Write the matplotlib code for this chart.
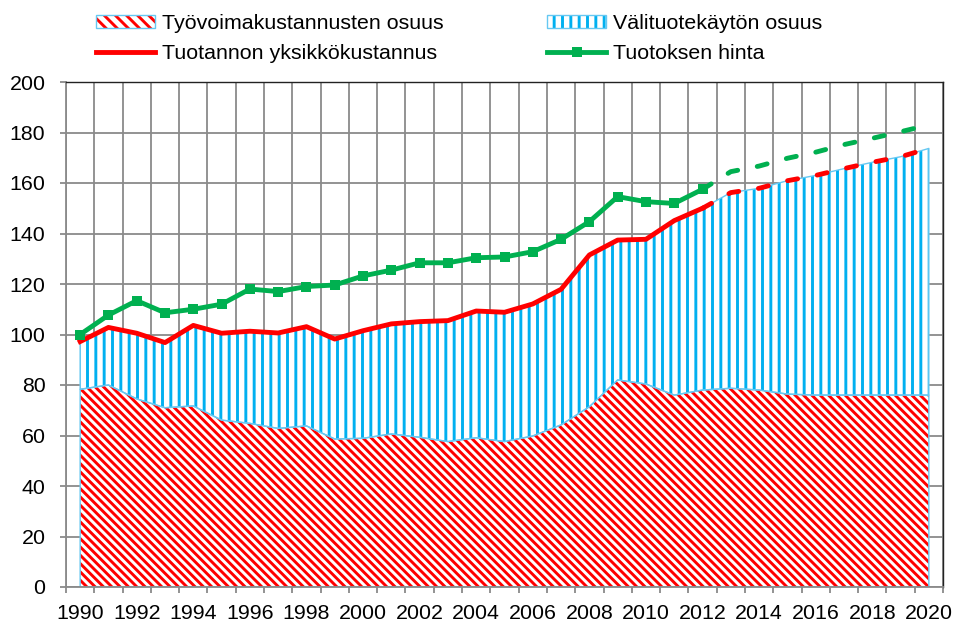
import numpy as np
import matplotlib.pyplot as plt
from matplotlib.patches import Patch
from matplotlib.lines import Line2D

plt.rcParams['font.family'] = ['Liberation Sans', 'DejaVu Sans']
plt.rcParams['hatch.linewidth'] = 2.1

# Data
years = np.arange(1990, 2021)
hist_years = np.arange(1990, 2013)
fc_years = np.arange(2012, 2021)

labour = [78.3, 80.0, 74.5, 71.0, 71.7, 66.1, 64.8, 62.8, 63.8, 58.6, 58.9,
          60.6, 59.3, 57.6, 59.1, 57.6, 59.8, 64.2, 71.4, 82.0, 80.4, 76.0,
          78.0, 78.7, 78.0, 76.4, 76.0, 76.0, 76.0, 76.0, 76.0]
unit_cost = [97.2, 102.8, 100.5, 96.8, 103.6, 100.5, 101.3, 100.6, 103.1, 98.2,
             101.5, 104.2, 105.1, 105.5, 109.3, 108.8, 112.1, 117.9, 131.5,
             137.4, 137.7, 145.1, 150.0]
unit_cost_fc = [150.0, 156.2, 157.9, 160.9, 163.0, 165.7, 168.2, 170.4, 173.7]
price = [100.0, 107.7, 113.4, 108.6, 110.0, 112.0, 118.0, 117.0, 119.0, 119.6,
         123.2, 125.5, 128.4, 128.4, 130.4, 130.7, 132.8, 137.7, 144.7, 154.6,
         152.6, 151.9, 157.5]
price_fc = [157.5, 164.5, 166.7, 169.8, 172.2, 175.2, 177.7, 180.3, 183.0]

labels = ['Työvoimakustannusten osuus', 'Välituotekäytön osuus',
          'Tuotannon yksikkökustannus', 'Tuotoksen hinta']

total = unit_cost + unit_cost_fc[1:]

red = '#FF0000'
green = '#00B050'
blue = '#00B0F0'
edge_blue = '#66C8F2'
grid_c = '#8a8a8a'
fs = 15.4

fig = plt.figure(figsize=(9.55, 6.24), dpi=100)
ax = fig.add_axes([66 / 955, 1 - 587 / 624, (943 - 66) / 955, (587 - 82) / 624])

# stacked areas
ax.fill_between(years, 0, labour, facecolor='white', edgecolor=red,
                hatch='\\\\\\\\', linewidth=0, zorder=2)
ax.fill_between(years, labour, total, facecolor='white', edgecolor=blue,
                hatch='||', linewidth=0, zorder=2)
ax.fill_between(years, 0, labour, facecolor='none', edgecolor=edge_blue,
                linewidth=1, zorder=2.1)
ax.fill_between(years, labour, total, facecolor='none', edgecolor=edge_blue,
                linewidth=1, zorder=2.1)

# lines
dash = (0, (2.1, 4.1))
ax.plot(hist_years, unit_cost, color=red, lw=3.5, zorder=4)
ax.plot(fc_years, unit_cost_fc, color=red, lw=3.5, ls=dash,
        dash_capstyle='round', zorder=4)
ax.plot(hist_years, price, color=green, lw=3.5, marker='s', ms=7.5, mew=0,
        zorder=5)
ax.plot(fc_years, price_fc, color=green, lw=3.5, ls=dash,
        dash_capstyle='round', zorder=5)

ax.set_xlim(1989.5, 2020.5)
ax.set_ylim(0, 200)
ax.set_yticks(range(0, 201, 20))
ax.set_xticks(years[::2])
ax.set_xticks(np.arange(1989.5, 2021, 1), minor=True)
ax.tick_params(axis='x', which='major', length=0, pad=12, labelsize=fs)
ax.tick_params(axis='x', which='minor', length=4.3, width=1.3, color=grid_c)
ax.tick_params(axis='y', length=4.3, width=1.3, color=grid_c, pad=10.5,
               labelsize=fs)
ax.grid(True, axis='x', which='minor', color=grid_c, lw=1.3)
ax.grid(True, axis='y', which='major', color=grid_c, lw=1.3)
ax.set_axisbelow(True)
for side, s in ax.spines.items():
    if side in ('top', 'right'):
        s.set_color('#222222')
        s.set_linewidth(1.0)
    else:
        s.set_color(grid_c)
        s.set_linewidth(1.3)

# legend
lab_h = (Patch(facecolor='white', edgecolor=red, hatch='\\\\\\', linewidth=0),
         Patch(facecolor='none', edgecolor=edge_blue, linewidth=1))
int_h = (Patch(facecolor='white', edgecolor=blue, hatch='||', linewidth=0),
         Patch(facecolor='none', edgecolor=edge_blue, linewidth=1))
handles = [lab_h, Line2D([], [], color=red, lw=3.5), int_h,
           Line2D([], [], color=green, lw=3.5, marker='s', ms=7, mew=0)]
leg_labels = [labels[0], labels[2], labels[1], labels[3]]
fig.legend(handles, leg_labels, ncol=2, loc='upper left',
           bbox_to_anchor=(96 / 955, 1 - 14 / 624), frameon=False,
           fontsize=fs, handlelength=2.75, handleheight=0.6,
           handletextpad=0.33, columnspacing=4.85, labelspacing=0.5,
           borderpad=0, borderaxespad=0)

fig.savefig('out.png', dpi=100)
